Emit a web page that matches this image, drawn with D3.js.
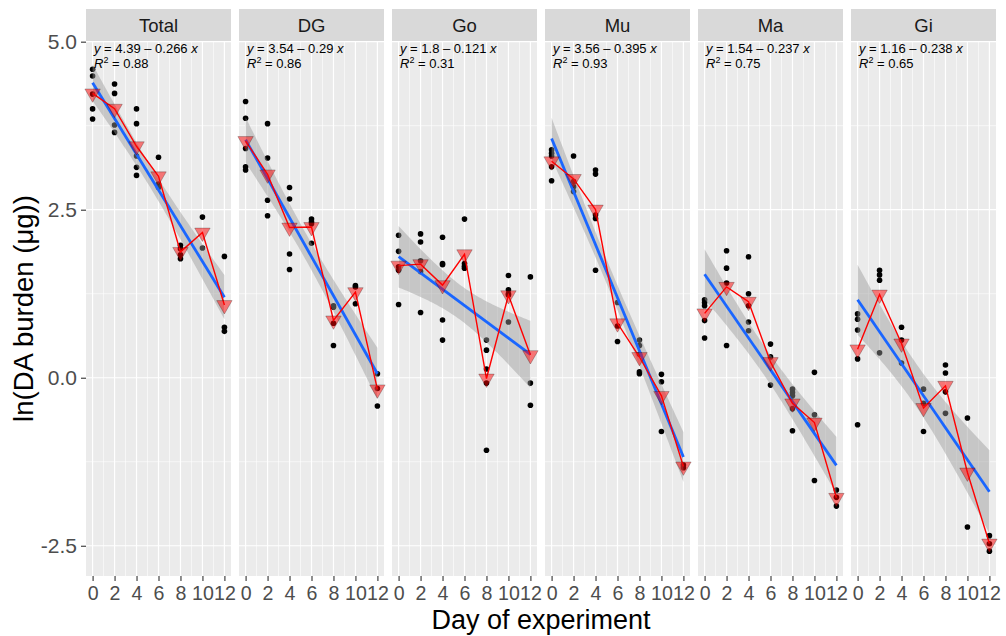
<!DOCTYPE html>
<html>
<head>
<meta charset="utf-8">
<script src="https://cdn.jsdelivr.net/npm/d3@7"></script>
<style>
body{margin:0;background:#fff}
text{font-family:"Liberation Sans",Arial,sans-serif}
</style>
</head>
<body>
<svg id="chart" width="1006" height="636"></svg>
<script>
// data: ln(DA burden) per day, one inner array per day
const days=[0,2,4,6,8,10,12]
const panels=["Total","DG","Go","Mu","Ma","Gi"]
const totalVals=[[4.59,4.49,4.22,4.00,3.85],[4.37,4.23,3.76,3.65],[4.00,3.78,3.30,3.13,3.01],[3.28,2.88,2.83],[1.97,1.92,1.83,1.77],[2.39,1.93],[1.805,0.75,0.69]]
const dgVals=[[4.11,3.86,3.41,3.14,3.09],[3.78,3.27,2.64,2.41],[2.83,2.66,1.84,1.61],[2.36,2.32,2.29,2.00],[1.07,1.05,0.81,0.48],[1.37,1.35,1.10],[0.06,-0.16,-0.42]]
const goVals=[[2.12,1.88,1.65,1.60,1.09],[2.14,2.02,1.74,1.58,0.97],[2.09,1.70,1.68,0.86,0.56],[2.36,1.70,1.66,1.63],[0.56,0.41,0.13,-0.08,-1.08],[1.52,1.31,1.25,1.23,0.83],[1.50,-0.08,-0.41]]
const muVals=[[3.39,3.34,3.30,3.14,2.93],[3.30,2.92,2.84,2.77],[3.09,3.03,2.42,2.37,1.60],[1.12,0.77,0.54],[0.56,0.48,0.35,0.09,0.06],[0.05,-0.06,-0.80],[-1.30,-1.34]]
const maVals=[[1.16,1.12,1.07,0.85,0.59],[1.89,1.63,1.41,0.48],[1.80,1.25,1.07,0.83,0.70],[0.50,0.31,-0.11],[-0.17,-0.22,-0.27,-0.46,-0.79],[0.08,-0.55,-1.53],[-1.67,-1.78,-1.91]]
const giVals=[[0.95,0.87,0.71,0.28,-0.70],[1.60,1.53,1.45,0.37],[0.75,0.56,0.22],[-0.17,-0.38,-0.80],[0.19,0.07,-0.21,-0.53],[-0.60,-2.22],[-2.35,-2.47,-2.58]]
const allVals=[totalVals,dgVals,goVals,muVals,maVals,giVals]
const intercepts=[4.39,3.54,1.8,3.56,1.54,1.16]
const slopes=[-0.266,-0.29,-0.121,-0.395,-0.237,-0.238]
const r2Labels=["0.88","0.86","0.31","0.93","0.75","0.65"]
const yTicks=[-2.5,0,2.5,5]
const yTickLabels=["-2.5","0.0","2.5","5.0"]

const svg=d3.select("#chart")
const panelW=145,step=153,left0=86
const pTop=41,pBottom=576

const y=d3.scaleLinear().domain([-2.95,5.01]).range([pBottom,pTop])
const x=d3.scaleLinear().domain([-0.6,12.6]).range([0,panelW])

const tq=df=>1.96+2.4/df   // approx t quantile (0.975)
const r=8.9
const tri=`M${-0.866*r},${-0.5*r}L${0.866*r},${-0.5*r}L0,${r}Z`

panels.forEach((name,i)=>{
const g=svg.append("g").attr("transform","translate("+(left0+i*step)+",0)")
const vals=allVals[i]
const pts=[]
vals.forEach((arr,k)=>arr.forEach(v=>pts.push({d:days[k],v:v})))
const means=vals.map((arr,k)=>({d:days[k],v:d3.mean(arr)}))
const a=intercepts[i],b=slopes[i]

// strip
g.append("rect").attr("x",0).attr("y",9).attr("width",panelW).attr("height",pTop-9).attr("fill","#D9D9D9")
g.append("text").attr("x",panelW/2).attr("y",32).attr("text-anchor","middle")
.attr("font-size",18.5).attr("fill","#1A1A1A").text(name)

// panel
g.append("rect").attr("x",0).attr("y",pTop).attr("width",panelW).attr("height",pBottom-pTop).attr("fill","#EBEBEB")

const minorX=d3.range(1,12,2),minorY=[-1.25,1.25,3.75]
g.selectAll(".mx").data(minorX).enter().append("line")
.attr("x1",d=>x(d)).attr("x2",d=>x(d)).attr("y1",pTop).attr("y2",pBottom)
.attr("stroke","#fff").attr("stroke-width",0.6)
g.selectAll(".my").data(minorY).enter().append("line")
.attr("x1",0).attr("x2",panelW).attr("y1",d=>y(d)).attr("y2",d=>y(d))
.attr("stroke","#fff").attr("stroke-width",0.6)
g.selectAll(".gx").data(days).enter().append("line")
.attr("x1",d=>x(d)).attr("x2",d=>x(d)).attr("y1",pTop).attr("y2",pBottom)
.attr("stroke","#fff").attr("stroke-width",1.2)
g.selectAll(".gy").data(yTicks).enter().append("line")
.attr("x1",0).attr("x2",panelW).attr("y1",d=>y(d)).attr("y2",d=>y(d))
.attr("stroke","#fff").attr("stroke-width",1.2)

// points
g.selectAll(".pt").data(pts).enter().append("circle")
.attr("cx",d=>x(d.d)).attr("cy",d=>y(d.v)).attr("r",2.8).attr("fill","#000")

// confidence band around the fitted line
const n=pts.length
const xbar=d3.mean(pts,p=>p.d)
const sxx=d3.sum(pts,p=>(p.d-xbar)**2)
const s=Math.sqrt(d3.sum(pts,p=>(p.v-(a+b*p.d))**2)/(n-2))
const t=tq(n-2)
const band=d3.range(81).map(j=>{
const xx=j*12/80
const se=s*Math.sqrt(1/n+(xx-xbar)**2/sxx)
return {d:xx,lo:a+b*xx-t*se,hi:a+b*xx+t*se}
})
g.append("path").datum(band)
.attr("d",d3.area().x(d=>x(d.d)).y0(d=>y(d.lo)).y1(d=>y(d.hi)))
.attr("fill","#999999").attr("fill-opacity",0.45)

g.append("path").datum([0,12])
.attr("d",d3.line().x(d=>x(d)).y(d=>y(a+b*d)))
.attr("stroke","#1A66FF").attr("stroke-width",2.8).attr("fill","none")

// means
g.append("path").datum(means)
.attr("d",d3.line().x(d=>x(d.d)).y(d=>y(d.v)))
.attr("stroke","red").attr("stroke-width",1.4).attr("fill","none")
g.selectAll(".tri").data(means).enter().append("path")
.attr("d",tri).attr("transform",d=>"translate("+x(d.d)+","+y(d.v)+")")
.attr("fill","red").attr("fill-opacity",0.5)
.attr("stroke","#000").attr("stroke-opacity",0.3).attr("stroke-width",0.8)

// equation
const eq=g.append("text").attr("x",8).attr("y",53).attr("font-size",13).attr("fill","#000")
eq.append("tspan").attr("font-style","italic").text("y")
eq.append("tspan").text(" = "+a+" \u2013 "+Math.abs(b)+" ")
eq.append("tspan").attr("font-style","italic").text("x")
const r2=g.append("text").attr("x",8).attr("y",68).attr("font-size",13).attr("fill","#000")
r2.append("tspan").attr("font-style","italic").text("R")
r2.append("tspan").attr("font-size",9).attr("dy",-5).text("2")
r2.append("tspan").attr("dy",5).text(" = "+r2Labels[i])

// x axis
const xa=g.append("g").attr("transform","translate(0,"+pBottom+")")
.call(d3.axisBottom(x).tickValues(days).tickSize(5).tickPadding(5))
xa.select(".domain").remove()
xa.selectAll("line").attr("stroke","#333").attr("stroke-width",1.1)
xa.selectAll("text").attr("font-size",19.6).attr("fill","#4D4D4D").attr("font-family","Liberation Sans,Arial,sans-serif")

if(i===0){
const ya=g.append("g").call(d3.axisLeft(y).tickValues(yTicks).tickFormat((d,k)=>yTickLabels[k]).tickSize(5).tickPadding(4))
ya.select(".domain").remove()
ya.selectAll("line").attr("stroke","#333").attr("stroke-width",1.1)
ya.selectAll("text").attr("font-size",21).attr("fill","#4D4D4D").attr("font-family","Liberation Sans,Arial,sans-serif")
}
})

svg.append("text").attr("x",(left0+left0+5*step+panelW)/2).attr("y",629)
.attr("text-anchor","middle").attr("font-size",27).attr("fill","#000").text("Day of experiment")
svg.append("text").attr("transform","translate(33,"+((pTop+pBottom)/2)+") rotate(-90)")
.attr("text-anchor","middle").attr("font-size",27.5).attr("fill","#000").text("ln(DA burden (\u03bcg))")
</script>
</body>
</html>
